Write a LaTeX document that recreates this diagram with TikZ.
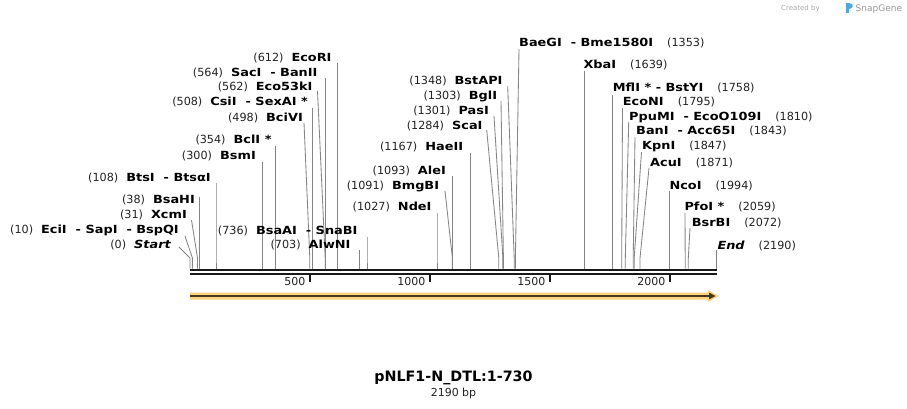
\documentclass[tikz,border=0pt]{standalone}
\usepackage{fontspec}
\setmainfont{DejaVu Sans}
\newfontfamily\bfw{DejaVu Sans}[FakeStretch=1.15]
\usetikzlibrary{arrows.meta}
\definecolor{conncol}{HTML}{858585}
\definecolor{numcol}{HTML}{222222}
\definecolor{orangeL}{HTML}{FDD27F}
\definecolor{orangeD}{HTML}{45381F}
\definecolor{logogray}{HTML}{AAAAAA}
\definecolor{logoblue}{HTML}{4FA8E0}
\newcommand\enz[1]{{\bfw\bfseries\color{black}#1}}
\newcommand\enzi[1]{{\bfw\bfseries\itshape\color{black}#1}}
\newcommand\lpos[1]{(#1)\hspace{8pt}}
\newcommand\rpos[1]{\hspace{14pt}(#1)}
\newcommand\myhy{\ \ -\ }
\tikzset{
  lab/.style={inner sep=0pt, font=\fontsize{11.2}{13}\selectfont, text=numcol},
  conn/.style={draw=conncol, line width=0.85pt},
  axisline/.style={draw=black!90, line width=2pt},
  tickmark/.style={draw=black!90, line width=1.6pt},
  ticklab/.style={inner sep=0pt, anchor=base east, font=\fontsize{11}{13}\selectfont, text=numcol}
}
\begin{document}
\begin{tikzpicture}[x=1pt,y=-1pt]
\fill[white] (0,0) rectangle (907,408);
\useasboundingbox (0,0) rectangle (907,408);

% sites
\foreach \id/\side/\txt/\xl/\yb/\tx/\ty/\fx in {
 s0/east/{\lpos{0}\enzi{Start}}/171/248/179/247/190,
 s10/east/{\lpos{10}\enz{EciI\myhy SapI\myhy BspQI}}/179/233/185/236/192.4,
 s31/east/{\lpos{31}\enz{XcmI}}/187/218/191.5/220/197.5,
 s38/east/{\lpos{38}\enz{BsaHI}}/195/203/199.1/197/199.1,
 s108/east/{\lpos{108}\enz{BtsI\myhy BtsαI}}/211/181/216/183/216,
 s300/east/{\lpos{300}\enz{BsmI}}/256/159/262.2/162/262.2,
 s354/east/{\lpos{354}\enz{BclI *}}/271.7/143/275.1/146/275.1,
 s498/east/{\lpos{498}\enz{BciVI}}/303/121/304/123/309.8,
 s508/east/{\lpos{508}\enz{CsiI\myhy SexAI *}}/308/105.5/312.2/108/312.2,
 s562/east/{\lpos{562}\enz{Eco53kI}}/312.7/90.5/317.5/91/325.2,
 s564/east/{\lpos{564}\enz{SacI\myhy BanII}}/317.7/76/325.6/78/325.6,
 s612/east/{\lpos{612}\enz{EcoRI}}/331.7/61/337.2/63/337.2,
 s703/east/{\lpos{703}\enz{AlwNI}}/350.7/248/359.1/250/359.1,
 s736/east/{\lpos{736}\enz{BsaAI\myhy SnaBI}}/357.7/234/367/237/367,
 s1027/east/{\lpos{1027}\enz{NdeI}}/431.7/210.5/437/213/437,
 s1091/east/{\lpos{1091}\enz{BmgBI}}/439.3/189/445/191/452.4,
 s1093/east/{\lpos{1093}\enz{AleI}}/446/174/452.9/176/452.9,
 s1167/east/{\lpos{1167}\enz{HaeII}}/463.3/150.5/470.7/153/470.7,
 s1284/east/{\lpos{1284}\enz{ScaI}}/482.7/129.5/486.7/130/498.8,
 s1301/east/{\lpos{1301}\enz{PasI}}/489/114/494/116/502.9,
 s1303/east/{\lpos{1303}\enz{BglI}}/497.3/99/501/101/503.4,
 s1348/east/{\lpos{1348}\enz{BstAPI}}/502.7/84/507.7/86/514.2,
 s1353/west/{\enz{BaeGI\myhy Bme1580I}\rpos{1353}}/519/46/519/49/515.4,
 s1639/west/{\enz{XbaI}\rpos{1639}}/583.3/68/584.2/71/584.2,
 s1758/west/{\enz{MflI *\ - BstYI}\rpos{1758}}/612.7/91/612.8/95/612.8,
 s1795/west/{\enz{EcoNI}\rpos{1795}}/622.7/105/622.5/108/621.7,
 s1810/west/{\enz{PpuMI\myhy EcoO109I}\rpos{1810}}/629/120/628.7/122/625.3,
 s1843/west/{\enz{BanI\myhy Acc65I}\rpos{1843}}/636/134/635/137/633.2,
 s1847/west/{\enz{KpnI}\rpos{1847}}/642/149/641.5/152/634.2,
 s1871/west/{\enz{AcuI}\rpos{1871}}/650/166.5/649/168/640,
 s1994/west/{\enz{NcoI}\rpos{1994}}/669.3/189/669.6/191/669.6,
 s2059/west/{\enz{PfoI *}\rpos{2059}}/684.3/210.5/685/213/685.2,
 s2072/west/{\enz{BsrBI}\rpos{2072}}/691.7/226.5/690/228/688.3,
 s2190/west/{\enzi{End}\rpos{2190}}/717.3/249/716.7/250/716.7
}{
 \node[lab, anchor=base \side] (n\id) at (\xl,\yb) {\txt};
 \coordinate (t\id) at (\tx,\ty);
 \coordinate (b\id) at (\fx,258);
 \coordinate (f\id) at (\fx,268.5);
 \draw[conn] (t\id) -- (b\id) -- (f\id);
}

% sequence axis
\coordinate (axA) at (190,269.5);
\coordinate (axB) at (717,269.5);
\coordinate (axC) at (190,273.5);
\coordinate (axD) at (717,273.5);
\draw[axisline] (axA) -- (axB);
\draw[axisline] (axC) -- (axD);
\foreach \v/\x in {500/310,1000/430,1500/550,2000/670}{
  \coordinate (tk\v) at (\x,274);
  \coordinate (tb\v) at (\x,282);
  \draw[tickmark] (tk\v) -- (tb\v);
  \node[ticklab] (tl\v) at (\x-4.5,285.7) {\v};
}

% feature arrow
\fill[orangeL] (190,292.5) -- (708,292.5) -- (708,290) -- (718.5,296) -- (708,302) -- (708,299.5) -- (190,299.5) -- cycle;
\draw[orangeD, line width=2pt] (190,296) -- (710,296);
\fill[orangeD] (709,292.5) -- (715.5,296) -- (709,299.5) -- cycle;

% title
\node[inner sep=0pt, anchor=base, font=\fontsize{14.3}{16}\selectfont\bfseries] (title) at (453.5,381.7) {pNLF1-N\_DTL:1-730};
\node[inner sep=0pt, anchor=base, font=\fontsize{11}{13}\selectfont, text=numcol] (bp) at (453.5,396) {2190 bp};

% logo
\node[inner sep=0pt, anchor=base west, font=\fontsize{7}{8}\selectfont, text=logogray] (cb) at (781,10) {Created by};
\fill[logoblue] (846,3) rectangle (849,13);
\fill[logoblue] (849,3) .. controls (854,3) and (854,9) .. (849,9) -- cycle;
\node[inner sep=0pt, anchor=base west, font=\fontsize{9}{10}\selectfont, text=logogray!90!black] (sg) at (855.5,11) {SnapGene};
\end{tikzpicture}
\end{document}
